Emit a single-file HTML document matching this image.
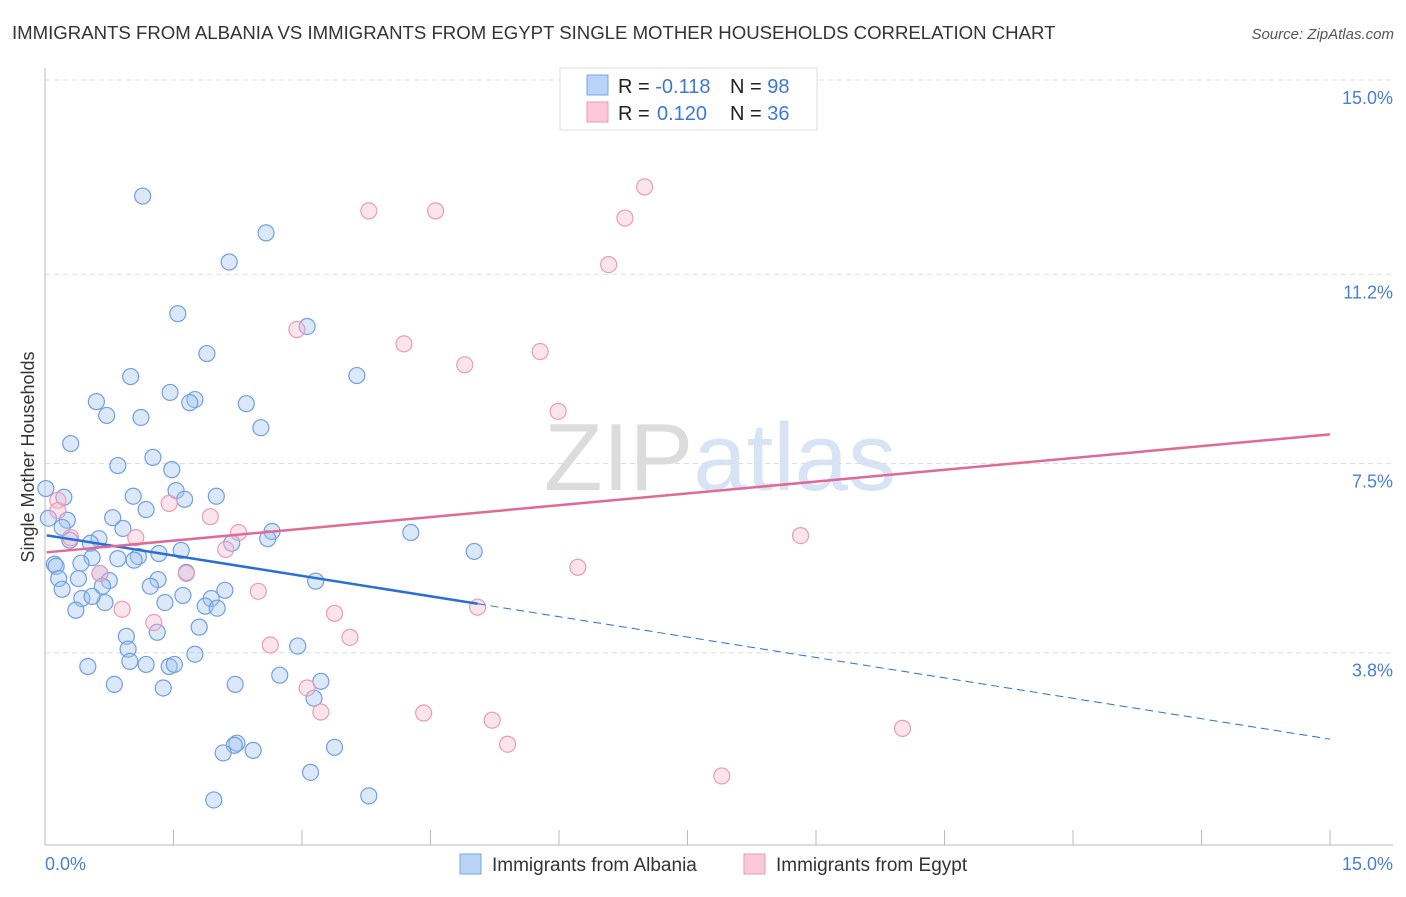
<!DOCTYPE html>
<html><head><meta charset="utf-8"><style>
body{margin:0;background:#fff;font-family:"Liberation Sans",sans-serif;}
svg text{font-family:"Liberation Sans",sans-serif;}
</style></head><body>
<svg id="chart" width="1406" height="892" xmlns="http://www.w3.org/2000/svg">
<text x="12" y="39" font-size="18.6" fill="#333">IMMIGRANTS FROM ALBANIA VS IMMIGRANTS FROM EGYPT SINGLE MOTHER HOUSEHOLDS CORRELATION CHART</text>
<text x="1394" y="39" font-size="15" fill="#555" font-style="italic" text-anchor="end">Source: ZipAtlas.com</text>
<text x="720" y="490" font-size="96" text-anchor="middle" fill="#e6e6e6" font-family="Liberation Serif"><tspan fill="#dcdcdc">ZIP</tspan><tspan fill="#d6e4f5" font-family="Liberation Sans">atlas</tspan></text>
<g id="grid"></g>
<g id="axes"></g>
<g id="pts"></g>
<g id="trends"></g>
<text transform="translate(34,457) rotate(-90)" font-size="18" fill="#333" text-anchor="middle">Single Mother Households</text>
<text x="45" y="870" font-size="18" fill="#4a7fd0">0.0%</text>
<text x="1393" y="870" font-size="18" fill="#4a7fd0" text-anchor="end">15.0%</text>
<g>
<rect x="560" y="68" width="257" height="62" fill="#fff" stroke="#ddd"/>
<rect x="587" y="75" width="21" height="20" fill="#b8d3f5" stroke="#7aa6e6"/>
<rect x="587" y="102" width="21" height="20" fill="#fbc9d8" stroke="#ee9bb5"/>
<text x="618" y="93" font-size="20" fill="#222">R = <tspan fill="#3b78d8">-0.118</tspan><tspan x="730">N = </tspan><tspan fill="#3b78d8">98</tspan></text>
<text x="618" y="120" font-size="20" fill="#222">R = <tspan fill="#3b78d8" x="657">0.120</tspan><tspan x="730">N = </tspan><tspan fill="#3b78d8">36</tspan></text>
</g>
<g>
<rect x="460" y="854" width="21" height="20" fill="#b8d3f5" stroke="#7aa6e6"/>
<text x="492" y="871" font-size="19" fill="#333">Immigrants from Albania</text>
<rect x="744" y="854" width="21" height="20" fill="#fbc9d8" stroke="#ee9bb5"/>
<text x="776" y="871" font-size="19" fill="#333">Immigrants from Egypt</text>
</g>
</svg>
<script>
const yTicks=[15.0,11.2,7.5,3.8];
const yTickLabels=["15.0%","11.2%","7.5%","3.8%"];
const albaniaX=[1.14,2.58,2.15,1.55,3.06,1.89,1.00,3.64,1.46,0.60,1.75,1.69,2.35,0.72,1.12,2.52,0.30,1.26,0.85,1.48,1.53,0.01,1.03,2.00,1.63,0.22,1.18,0.79,0.26,0.04,0.20,0.91,4.27,2.65,2.60,2.18,0.63,0.53,0.29,5.01,1.59,1.33,1.09,0.85,1.04,0.55,0.11,0.13,0.42,0.64,1.65,1.32,0.75,0.39,0.16,3.16,0.67,1.23,2.10,0.20,1.61,1.94,0.43,1.40,0.70,0.55,1.87,2.01,0.36,1.80,0.95,1.31,2.95,0.97,1.75,0.99,1.18,0.50,1.45,1.51,2.74,3.22,2.22,0.81,1.38,3.14,2.24,2.21,2.43,3.38,2.08,3.10,1.97,3.78];
const albaniaY=[12.73,12.01,11.44,10.43,10.18,9.65,9.20,9.22,8.89,8.71,8.75,8.69,8.67,8.44,8.40,8.20,7.89,7.62,7.46,7.38,6.97,7.01,6.86,6.86,6.80,6.84,6.60,6.44,6.39,6.43,6.25,6.23,6.15,6.17,6.03,5.94,6.03,5.94,6.00,5.78,5.80,5.74,5.68,5.64,5.61,5.66,5.53,5.49,5.55,5.35,5.37,5.23,5.21,5.25,5.25,5.20,5.10,5.10,5.02,5.04,4.92,4.86,4.86,4.78,4.78,4.90,4.71,4.67,4.63,4.30,4.12,4.20,3.93,3.87,3.77,3.63,3.57,3.53,3.53,3.57,3.36,3.24,3.18,3.18,3.11,2.91,2.03,1.99,1.89,1.95,1.84,1.46,0.92,1.00];
const egyptX=[7.00,3.78,4.56,6.77,6.58,2.94,4.19,5.78,4.90,5.99,0.15,1.45,1.93,2.26,0.15,0.30,1.06,8.82,2.11,6.22,1.65,0.64,2.49,0.90,3.38,1.27,3.56,2.63,3.06,3.22,4.42,5.22,5.40,10.01,7.90,5.05];
const egyptY=[12.91,12.44,12.44,12.30,11.39,10.12,9.84,9.69,9.43,8.52,6.78,6.72,6.46,6.15,6.58,6.05,6.05,6.09,5.82,5.47,5.35,5.35,5.00,4.65,4.57,4.39,4.10,3.95,3.11,2.64,2.62,2.48,2.01,2.32,1.39,4.69];
const albaniaTrend=[6.1,-0.266];
const egyptTrend=[5.76,0.154];
const albaniaSolidEnd=5.05;

const NS="http://www.w3.org/2000/svg";
const X0=45,X1=1330,Y0=847,YT=80;
const sx=v=>X0+v/15*(X1-X0);
const sy=v=>Y0-v/15*(Y0-YT);
function mk(tag,attrs,parent){const e=document.createElementNS(NS,tag);for(const k in attrs)e.setAttribute(k,attrs[k]);parent.appendChild(e);return e;}
const grid=document.getElementById('grid'),axes=document.getElementById('axes'),pts=document.getElementById('pts'),tr=document.getElementById('trends');
yTicks.forEach((t,i)=>{
  const l=mk('line',{x1:X0,x2:1393,y1:sy(t),y2:sy(t),stroke:'#ddd','stroke-dasharray':'5,4'},grid);
  
  
  const tx=mk('text',{x:1393,y:sy(t)+24,'font-size':18,fill:'#4a7fd0','text-anchor':'end'},grid);
  tx.textContent=yTickLabels[i];
  
  
});
const xa=mk('line',{x1:X0,x2:1393,y1:845,y2:845,stroke:'#bbb'},axes);


const ya=mk('line',{x1:X0,x2:X0,y1:68,y2:845,stroke:'#bbb'},axes);


for(let i=0;i<=10;i++){
  const x=sx(i*1.5);
  const tk=mk('line',{x1:x,x2:x,y1:830,y2:845,stroke:'#bbb'},axes);
  
  
}
function dots(xs,ys,fill,stroke,name){
  xs.forEach((x,i)=>{
    const c=mk('circle',{cx:sx(x),cy:sy(ys[i]),r:8,fill:fill,stroke:stroke,'stroke-width':1.2},pts);
    
    
  });
}
dots(albaniaX,albaniaY,'rgba(160,195,238,0.38)','#6f9fe0','albania-point');
dots(egyptX,egyptY,'rgba(248,185,205,0.38)','#ec9ab4','egypt-point');
const f=(p,x)=>p[0]+p[1]*x;
const b1=mk('line',{x1:sx(0.02),y1:sy(f(albaniaTrend,0.02)),x2:sx(albaniaSolidEnd),y2:sy(f(albaniaTrend,albaniaSolidEnd)),stroke:'#2a6fd6','stroke-width':2.5},tr);


const b2=mk('line',{x1:sx(albaniaSolidEnd),y1:sy(f(albaniaTrend,albaniaSolidEnd)),x2:sx(15),y2:sy(f(albaniaTrend,15)),stroke:'#2a6fd6','stroke-width':1,'stroke-dasharray':'8,5'},tr);


const p1=mk('line',{x1:sx(0.02),y1:sy(f(egyptTrend,0.02)),x2:sx(15),y2:sy(f(egyptTrend,15)),stroke:'#e06a95','stroke-width':2.5},tr);


</script>
</body></html>
